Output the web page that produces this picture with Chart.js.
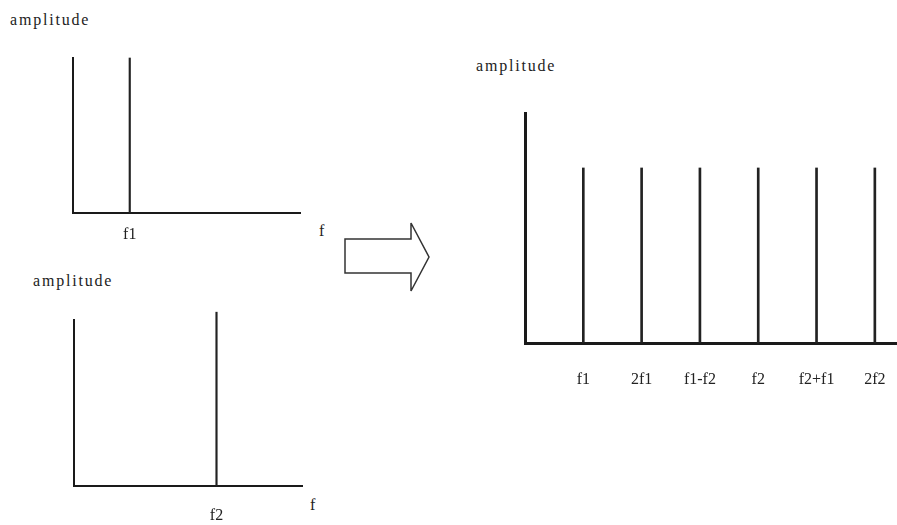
<!DOCTYPE html>
<html>
<head>
<meta charset="utf-8">
<script src="https://cdn.jsdelivr.net/npm/chart.js@4.4.1/dist/chart.umd.min.js"></script>
<style>
  body { margin: 0; width: 897px; height: 525px; background: #fff; overflow: hidden; position: relative; }
  canvas, .txt, svg { position: absolute; }
  .txt { font-family: "Liberation Serif", serif; font-size: 16px; line-height: 16px; color: #222; letter-spacing: 1.8px; white-space: nowrap; }
</style>
</head>
<body>
<div class="txt" style="left:10px; top:12px">amplitude</div>
<div class="txt" style="left:319px; top:223px">f</div>
<div class="txt" style="left:33px; top:273px">amplitude</div>
<div class="txt" style="left:310px; top:497px">f</div>
<div class="txt" style="left:476px; top:58px">amplitude</div>

<svg width="897" height="525" style="left:0;top:0">
  <polygon points="345,239 411,239 411,223 429,257 411,291 411,273 345,273" fill="none" stroke="#333" stroke-width="1.5"/>
</svg>

<canvas id="c1" width="260" height="213" style="left:60px; top:40px"></canvas>
<canvas id="c2" width="262" height="525" style="left:60px; top:0px"></canvas>
<canvas id="c3" width="392" height="298" style="left:505px; top:95px"></canvas>

<script>
// input spectra: one tone each
const labels1 = ['f1'];
const pos1 = [1];
const amp1 = [1];

const labels2 = ['f2'];
const pos2 = [2.5];
const amp2 = [1];

// output spectrum after the nonlinearity
const labels3 = ['f1', '2f1', 'f1-f2', 'f2', 'f2+f1', '2f2'];
const pos3 = [1, 2, 3, 4, 5, 6];
const amp3 = [1, 1, 1, 1, 1, 1];

function spectrum(id, opt) {
  const points = opt.pos.map((p, i) => ({x: p, y: opt.amp[i]}));
  return new Chart(document.getElementById(id), {
    type: 'bar',
    data: {
      datasets: [{
        data: points,
        backgroundColor: '#222',
        barThickness: opt.bar,
        clip: false
      }]
    },
    options: {
      responsive: false,
      animation: false,
      layout: { padding: opt.padding },
      plugins: { legend: { display: false }, tooltip: { enabled: false } },
      scales: {
        x: {
          type: 'linear',
          offset: false,
          min: 0,
          max: opt.xMax,
          grid: { display: false, drawTicks: false },
          border: { display: true, color: '#1a1a1a', width: opt.axisW },
          afterBuildTicks: s => { s.ticks = opt.pos.map(v => ({value: v})); },
          afterFit: s => { s.height = opt.axisH; s.paddingLeft = 0; s.paddingRight = 0; },
          ticks: {
            autoSkip: false,
            maxRotation: 0,
            padding: opt.tickPad,
            color: '#222',
            font: { family: 'Liberation Serif', size: 16 },
            callback: v => opt.labels[opt.pos.indexOf(v)]
          }
        },
        y: {
          min: 0,
          max: opt.yMax,
          grid: { display: false, drawTicks: false },
          border: { display: true, color: '#1a1a1a', width: opt.axisW },
          ticks: { display: false },
          afterFit: s => { s.width = 0; }
        }
      }
    }
  });
}

spectrum('c1', {
  labels: labels1, pos: pos1, amp: amp1,
  xMax: 4, yMax: 1, bar: 1.5, axisW: 2,
  padding: {left: 13, top: 18, right: 20, bottom: 0},
  axisH: 40, tickPad: 12
});

spectrum('c2', {
  labels: labels2, pos: pos2, amp: amp2,
  xMax: 4, yMax: 0.955, bar: 1.5, axisW: 2,
  padding: {left: 14, top: 320, right: 20, bottom: 0},
  axisH: 39, tickPad: 20
});

spectrum('c3', {
  labels: labels3, pos: pos3, amp: amp3,
  xMax: 6.38, yMax: 1.314, bar: 2, axisW: 3,
  padding: {left: 20, top: 18, right: 0, bottom: 0},
  axisH: 50, tickPad: 27
});
</script>
</body>
</html>
